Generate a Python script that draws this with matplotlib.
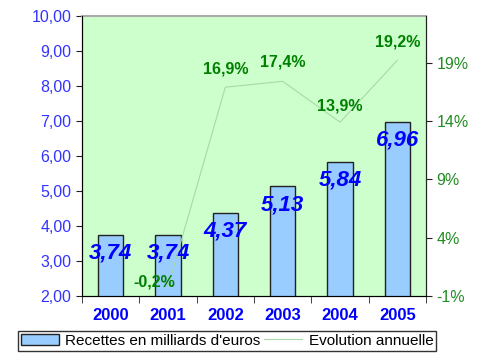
import matplotlib.pyplot as plt
from matplotlib.ticker import FuncFormatter, FixedLocator

plt.rcParams['font.family'] = ['Liberation Sans', 'DejaVu Sans']

years = ['2000', '2001', '2002', '2003', '2004', '2005']
recettes = [3.74, 3.74, 4.37, 5.13, 5.84, 6.96]
evol_years = [1, 2, 3, 4, 5]
evolution = [-0.2, 16.9, 17.4, 13.9, 19.2]
evol_labels = ['-0,2%', '16,9%', '17,4%', '13,9%', '19,2%']
# label offsets in points (dx, dy)
evol_offsets = [(-10, 3), (0, 13), (0, 14), (0, 12), (0, 13)]

fig = plt.figure(figsize=(4.79, 3.63), dpi=100)
ax = fig.add_axes([0.1712, 0.1846, 0.7182, 0.7713])
ax.set_facecolor('#CCFFCC')

x = list(range(len(years)))
bars = ax.bar(x, recettes, width=0.44, color='#99CCFF', edgecolor='#222222',
              linewidth=1.0, zorder=2, label="Recettes en milliards d'euros")
for xi, v in zip(x, recettes):
    ax.annotate(f'{v:.2f}'.replace('.', ','), (xi, v), xytext=(0, -13),
                textcoords='offset points', ha='center', va='center',
                fontsize=16, fontweight='bold', fontstyle='italic',
                color='#0000FF', zorder=5)

ax.set_ylim(2, 10)
ax.set_xlim(-0.5, 5.5)
ax.set_yticks([2, 3, 4, 5, 6, 7, 8, 9, 10])
ax.yaxis.set_major_formatter(FuncFormatter(lambda v, p: f'{v:.2f}'.replace('.', ',')))
ax.tick_params(axis='y', colors='#222222', labelcolor='#3333FF', labelsize=11.5,
               direction='out', length=4)
ax.set_xticks(x)
ax.set_xticklabels(years, fontweight='bold', color='#0000FF', fontsize=12)
ax.tick_params(axis='x', length=0, pad=9)
ax.xaxis.set_minor_locator(FixedLocator([i - 0.5 for i in range(7)]))
ax.tick_params(axis='x', which='minor', length=5, direction='out', color='#222222')
ax.spines['top'].set_color('#AAAAAA')
ax.spines['top'].set_linewidth(1.5)
ax.spines['left'].set_color('#222222')
ax.spines['bottom'].set_color('#222222')
ax.spines['right'].set_color('#222222')

ax2 = ax.twinx()
ax2.patch.set_visible(False)
line, = ax2.plot(evol_years, evolution, color='#A8D8A8', linewidth=0.8,
                 zorder=3, label='Evolution annuelle')
for xi, v, lab, off in zip(evol_years, evolution, evol_labels, evol_offsets):
    ax2.annotate(lab, (xi, v), xytext=off, textcoords='offset points',
                 ha='center', va='center', fontsize=11.5, fontweight='bold',
                 color='#008000')
ax2.set_ylim(-1, 23)
ax2.set_yticks([-1, 4, 9, 14, 19])
ax2.yaxis.set_major_formatter(FuncFormatter(lambda v, p: f'{v:.0f}%'))
ax2.tick_params(axis='y', colors='#222222', labelcolor='#228B22', labelsize=11.5,
                direction='out', length=4)
ax2.spines['top'].set_visible(False)
ax2.spines['right'].set_color('#222222')

leg = fig.legend(handles=[bars, line], loc='lower left',
                 bbox_to_anchor=(0.021, 0.013, 0.906, 0.065), mode='expand',
                 ncol=2, fontsize=11, frameon=True, fancybox=False,
                 edgecolor='black', borderpad=0.2, handlelength=2.5,
                 columnspacing=0.6, handletextpad=0.4)
leg.get_frame().set_linewidth(1.0)

fig.savefig('out.png', dpi=100)
